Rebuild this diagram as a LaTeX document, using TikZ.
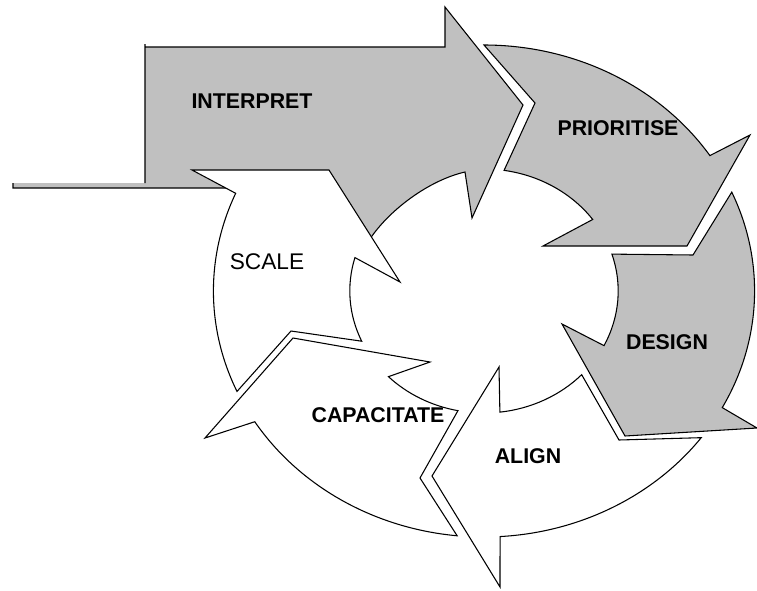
\documentclass[tikz,border=0pt]{standalone}
\usepackage{fontspec}
\setmainfont{Liberation Sans}
\usetikzlibrary{calc}
\definecolor{stagegrey}{RGB}{192,192,192}

\begin{document}
\begin{tikzpicture}[x=0.75pt,y=-0.75pt,thick,
  outerarc/.style={x radius=270.6,y radius=246},
  innerarc/.style={x radius=134.2,y radius=122},
  stage/.style={font=\fontsize{16}{19}\selectfont\bfseries},
  greyarrow/.style={draw=black,fill=stagegrey},
  whitearrow/.style={draw=black,fill=white}]
\useasboundingbox (0,0) rectangle (757,590);
\coordinate (c) at (484,291);

% interpret
\fill[stagegrey] (13,183) -- (145,183) -- (145,47) -- (445,47) -- (445,7) -- (523,105) -- (472,218) -- (465,172)
  .. controls (430,180) and (392,208) .. (372,236) -- (360,250) -- (240,188) -- (13,188) -- cycle;
\draw (145,183) -- (145,44) -- (145,47) -- (445,47) -- (445,7) -- (523,105) -- (472,218) -- (465,172)
  .. controls (430,180) and (392,208) .. (372,236) -- (360,250) -- (240,188) -- (13,188) -- (13,183);

% prioritise
\draw[greyarrow] ($(c)+(-90:270.6 and 246)$) arc[outerarc,start angle=-90,end angle=-33.4]
  -- (750,135) -- (687,246) -- (543,246)
  -- ($(c)+(-35.9:134.2 and 122)$) arc[innerarc,start angle=-35.9,end angle=-81.4]
  -- (535,103) -- cycle;

% design
\draw[greyarrow] ($(c)+(-23.7:270.6 and 246)$) arc[outerarc,start angle=-23.7,end angle=28.3]
  -- (757,428) -- (625,436) -- (562,324)
  -- ($(c)+(26.6:134.2 and 122)$) arc[innerarc,start angle=26.6,end angle=-17.6]
  -- (693,255) -- cycle;

% align
\draw[whitearrow] ($(c)+(36.6:270.6 and 246)$) arc[outerarc,start angle=36.6,end angle=86.6]
  -- (500,587) -- (432,476) -- (499,367)
  -- ($(c)+(83.2:134.2 and 122)$) arc[innerarc,start angle=83.2,end angle=43.3]
  -- (619,440) -- cycle;

% capacitate
\draw[whitearrow] ($(c)+(95.7:270.6 and 246)$) arc[outerarc,start angle=95.7,end angle=147.9]
  -- (205,438) -- (293,338) -- (430,362)
  -- ($(c)+(135.4:134.2 and 122)$) arc[innerarc,start angle=135.4,end angle=101.2]
  -- (420,478) -- cycle;

% scale
\draw[whitearrow] ($(c)+(155.9:270.6 and 246)$) arc[outerarc,start angle=155.9,end angle=203.4]
  -- (192,170) -- (329,170) -- (400,282)
  -- ($(c)+(195.9:134.2 and 122)$) arc[innerarc,start angle=195.9,end angle=155.7]
  -- (291,331) -- cycle;

\node at (252,101) [stage] (interpret) {INTERPRET};
\node at (618,128) [stage] (prioritise) {PRIORITISE};
\node at (667,342) [stage] (design) {DESIGN};
\node at (528,456) [stage] (align) {ALIGN};
\node at (378,415) [stage] (capacitate) {CAPACITATE};
\node at (267,262) [font=\fontsize{17}{20}\selectfont] (scale) {SCALE};
\end{tikzpicture}
\end{document}
